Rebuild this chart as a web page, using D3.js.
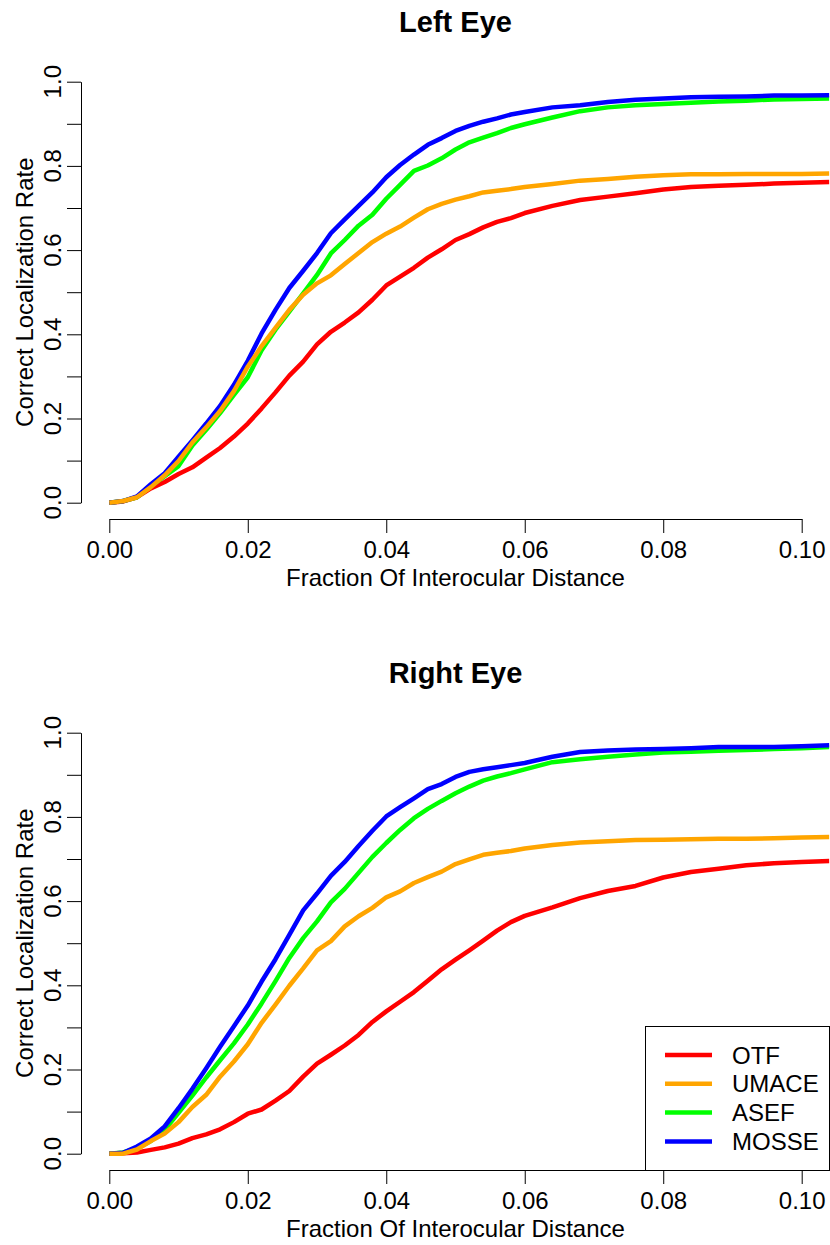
<!DOCTYPE html>
<html><head><meta charset="utf-8">
<script src="https://cdn.jsdelivr.net/npm/d3@7"></script>
<style>
html,body{margin:0;padding:0;background:#fff;}
svg{display:block;font-family:"Liberation Sans",Arial,Helvetica,sans-serif;}
</style></head><body>
<svg id="chart" width="830" height="1245"></svg>
<script>
// ---------- data ----------
const distances = [0,0.002,0.004,0.006,0.008,0.010,0.012,0.014,0.016,0.018,0.020,0.022,0.024,0.026,0.028,0.030,0.032,0.034,0.036,0.038,0.040,0.042,0.044,0.046,0.048,0.050,0.052,0.054,0.056,0.058,0.060,0.064,0.068,0.072,0.076,0.080,0.084,0.088,0.092,0.096,0.100,0.104];

const leftOTF   = [0,0.003,0.013,0.034,0.049,0.068,0.084,0.107,0.130,0.157,0.188,0.224,0.262,0.302,0.335,0.376,0.406,0.428,0.452,0.482,0.516,0.537,0.558,0.582,0.602,0.624,0.638,0.654,0.667,0.676,0.688,0.705,0.719,0.727,0.735,0.744,0.750,0.753,0.755,0.758,0.760,0.762];
const leftUMACE = [0,0.004,0.013,0.037,0.065,0.099,0.143,0.179,0.218,0.265,0.323,0.372,0.415,0.458,0.494,0.521,0.540,0.567,0.593,0.619,0.639,0.656,0.677,0.697,0.710,0.720,0.728,0.737,0.741,0.745,0.750,0.757,0.765,0.769,0.774,0.778,0.780,0.780,0.781,0.781,0.781,0.782];
const leftASEF  = [0,0.004,0.013,0.039,0.063,0.087,0.136,0.173,0.213,0.256,0.298,0.362,0.411,0.454,0.497,0.541,0.592,0.624,0.658,0.684,0.722,0.755,0.788,0.801,0.818,0.839,0.856,0.867,0.878,0.890,0.899,0.915,0.930,0.939,0.944,0.947,0.950,0.953,0.955,0.958,0.959,0.960];
const leftMOSSE = [0,0.004,0.015,0.044,0.070,0.109,0.148,0.188,0.230,0.280,0.337,0.402,0.458,0.510,0.551,0.593,0.640,0.673,0.705,0.737,0.773,0.802,0.827,0.850,0.866,0.883,0.895,0.905,0.913,0.922,0.928,0.939,0.944,0.952,0.957,0.960,0.963,0.964,0.965,0.967,0.967,0.968];

const rightOTF   = [0,0.001,0.003,0.009,0.015,0.024,0.037,0.046,0.058,0.075,0.095,0.105,0.126,0.149,0.183,0.214,0.235,0.257,0.282,0.313,0.338,0.361,0.384,0.411,0.438,0.461,0.483,0.506,0.530,0.550,0.565,0.585,0.607,0.624,0.636,0.656,0.669,0.677,0.685,0.690,0.693,0.695];
const rightUMACE = [0,0.000,0.010,0.030,0.048,0.075,0.111,0.140,0.183,0.219,0.260,0.311,0.354,0.399,0.440,0.483,0.505,0.540,0.564,0.584,0.609,0.623,0.643,0.657,0.670,0.688,0.699,0.710,0.715,0.719,0.725,0.733,0.739,0.742,0.745,0.746,0.747,0.748,0.748,0.749,0.751,0.752];
const rightASEF  = [0,0.003,0.013,0.030,0.057,0.097,0.138,0.181,0.222,0.262,0.307,0.357,0.410,0.465,0.512,0.552,0.597,0.629,0.667,0.705,0.738,0.769,0.797,0.819,0.838,0.856,0.872,0.886,0.896,0.904,0.913,0.930,0.937,0.943,0.948,0.953,0.955,0.957,0.959,0.961,0.963,0.966];
const rightMOSSE = [0,0.002,0.017,0.036,0.065,0.108,0.154,0.203,0.254,0.303,0.352,0.409,0.462,0.520,0.578,0.618,0.660,0.693,0.731,0.767,0.801,0.823,0.844,0.866,0.878,0.895,0.907,0.913,0.918,0.923,0.928,0.943,0.954,0.958,0.960,0.961,0.963,0.966,0.966,0.966,0.968,0.970];

const seriesNames = ["OTF","UMACE","ASEF","MOSSE"];
const panelTitles = ["Left Eye","Right Eye"];
const xTickValues = [0,0.02,0.04,0.06,0.08,0.10];
const xTickLabels = ["0.00","0.02","0.04","0.06","0.08","0.10"];
const yTickValues = [0,0.1,0.2,0.3,0.4,0.5,0.6,0.7,0.8,0.9,1.0];
const yLabelValues = [0,0.2,0.4,0.6,0.8,1.0];
const yTickLabels = ["0.0","0.2","0.4","0.6","0.8","1.0"];
const xAxisTitle = "Fraction Of Interocular Distance";
const yAxisTitle = "Correct Localization Rate";

// ---------- styles ----------
const seriesColors = {OTF:"#FF0000", UMACE:"#FFA500", ASEF:"#00FF00", MOSSE:"#0000FF"};
const drawOrder = ["OTF","ASEF","MOSSE","UMACE"];
const FONT = 24;

const panels = [
  {title: panelTitles[0], offset: 0,   legend: false,
   data: {OTF: leftOTF, UMACE: leftUMACE, ASEF: leftASEF, MOSSE: leftMOSSE}},
  {title: panelTitles[1], offset: 651, legend: true,
   data: {OTF: rightOTF, UMACE: rightUMACE, ASEF: rightASEF, MOSSE: rightMOSSE}}
];

const svg = d3.select("#chart");
svg.append("rect").attr("width",830).attr("height",1245).attr("fill","#fff");

panels.forEach((p, pi) => {
  const off = p.offset;
  const x = d3.scaleLinear().domain([0, 0.1]).range([109.3, 801.7]);
  const y = d3.scaleLinear().domain([0, 1]).range([502.7 + off, 81.7 + off]);
  const left = x(-0.004), right = x(0.104), top = y(1.04), bottom = y(-0.04);

  const g = svg.append("g");

  // title
  g.append("text")
    .attr("x", (left + right) / 2).attr("y", 32 + off)
    .attr("text-anchor", "middle")
    .attr("font-size", 29).attr("font-weight", "bold")
    .text(p.title);

  // clip
  const clipId = "clip" + pi;
  svg.append("clipPath").attr("id", clipId)
    .append("rect").attr("x", left).attr("y", top)
    .attr("width", right - left).attr("height", bottom - top);

  // lines
  const line = d3.line().x(d => x(d[0])).y(d => y(d[1]));
  const lg = g.append("g").attr("clip-path", `url(#${clipId})`);
  drawOrder.forEach(name => {
    const pts = distances.map((d, i) => [d, p.data[name][i]]);
    lg.append("path").datum(pts)
      .attr("d", line)
      .attr("fill", "none")
      .attr("stroke", seriesColors[name])
      .attr("stroke-width", 4.5)
      .attr("stroke-linejoin", "round")
      .attr("stroke-linecap", "butt");
  });

  // x axis
  const xa = g.append("g")
    .attr("transform", `translate(0,${Math.floor(bottom)})`)
    .call(d3.axisBottom(x).tickValues(xTickValues)
      .tickFormat((d, i) => xTickLabels[i]).tickSize(14).tickSizeOuter(0).tickPadding(8));
  xa.attr("font-size", FONT).attr("font-family", null).attr("color", "#000");

  // y axis
  const ya = g.append("g")
    .attr("transform", `translate(${Math.floor(left)},0)`)
    .call(d3.axisLeft(y).tickValues(yTickValues).tickFormat("").tickSize(14).tickSizeOuter(0));
  ya.attr("color", "#000");

  g.selectAll(".ylab").data(yLabelValues).enter().append("text")
    .attr("class", "ylab")
    .attr("transform", (d) => `translate(61,${y(d)}) rotate(-90)`)
    .attr("text-anchor", "middle")
    .attr("font-size", FONT)
    .text((d, i) => yTickLabels[i]);

  // axis titles
  g.append("text")
    .attr("x", (left + right) / 2).attr("y", 586 + off)
    .attr("text-anchor", "middle").attr("font-size", FONT)
    .text(xAxisTitle);
  g.append("text")
    .attr("transform", `translate(33,${(top + bottom) / 2}) rotate(-90)`)
    .attr("text-anchor", "middle").attr("font-size", FONT)
    .text(yAxisTitle);

  // legend
  if (p.legend) {
    const lgd = g.append("g");
    lgd.append("rect")
      .attr("x", 645.5).attr("y", 1026.5)
      .attr("width", Math.floor(right) + 0.5 - 645.5)
      .attr("height", Math.floor(bottom) + 0.5 - 1026.5)
      .attr("fill", "#fff").attr("stroke", "#000").attr("stroke-width", 1);
    seriesNames.forEach((name, i) => {
      const ry = 1055 + i * 28.8;
      lgd.append("line")
        .attr("x1", 665).attr("x2", 712).attr("y1", ry).attr("y2", ry)
        .attr("stroke", seriesColors[name]).attr("stroke-width", 4.5);
      lgd.append("text")
        .attr("x", 732).attr("y", ry + 8.6)
        .attr("font-size", FONT)
        .text(name);
    });
  }
});
</script>
</body></html>
